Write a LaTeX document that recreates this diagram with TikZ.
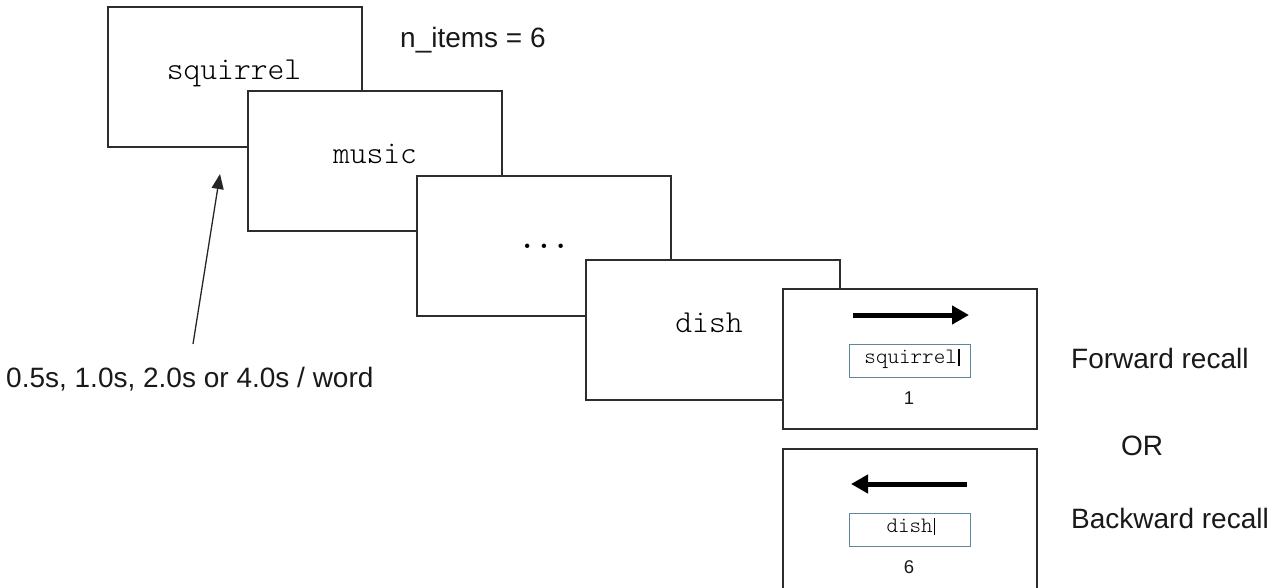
\documentclass[tikz,border=0pt]{standalone}
\usepackage{fontspec}
\setmainfont{Liberation Sans}
\newfontfamily\cour{lmmonolt10-regular.otf}
\newfontfamily\courbold{lmmonolt10-bold.otf}
\usetikzlibrary{arrows.meta}
\definecolor{frame}{RGB}{45,45,45}
\definecolor{inbox}{RGB}{95,135,155}
\tikzset{
  screen/.style={draw=frame, line width=1.3pt, fill=white, anchor=north west, inner sep=0pt, outer sep=0pt, minimum width=254pt, minimum height=140pt},
  entry/.style={draw=inbox, line width=1pt, fill=white, anchor=north west, inner sep=0pt, outer sep=0pt, minimum width=121pt, minimum height=33pt},
  bigword/.style={anchor=base, inner sep=0pt, font=\cour\fontsize{32}{36}\selectfont, text=black},
  smallword/.style={anchor=base, inner sep=0pt, font=\cour\fontsize{22}{26}\selectfont, text=black},
  label/.style={anchor=base west, inner sep=0pt, font=\fontsize{28}{32}\selectfont, text=black!90},
  num/.style={anchor=base, inner sep=0pt, font=\fontsize{18.5}{22}\selectfont, text=black!90},
  dirarrow/.style={line width=5pt, -{Triangle[length=17pt,width=18pt]}},
  pointer/.style={line width=1.3pt, draw=black!85, -{Triangle[length=15pt,width=12pt]}}
}
\begin{document}
\begin{tikzpicture}[x=1pt,y=-1pt]
\useasboundingbox (0,0) rectangle (1283,588);
% stacked screens
\node[screen] (b1) at (108,7) {};
\node[bigword] (w1) at (234,80) {squirrel};
\node[screen] (b2) at (248,91) {};
\node[bigword] (w2) at (375,164) {music};
\node[screen] (b3) at (417,176) {};
\node[bigword, font=\courbold\fontsize{32}{36}\selectfont] (w3) at (544,249) {...};
\node[screen] (b4) at (586,260) {};
\node[bigword] (w4) at (709,332) {dish};
% forward recall screen
\node[screen] (b5) at (783,289) {};
\coordinate (f1) at (853,315);
\coordinate (f2) at (969,315);
\draw[dirarrow] (f1) -- (f2);
\node[entry] (e5) at (849,344) {};
\node[smallword] (s5) at (912,363) {squirrel\hspace{1.5pt}\rule[-3pt]{1.2pt}{17pt}};
\node[num] (n5) at (909,404) {1};
% backward recall screen
\node[screen, minimum height=141pt] (b6) at (783,449) {};
\coordinate (g1) at (967,484);
\coordinate (g2) at (851,484);
\draw[dirarrow] (g1) -- (g2);
\node[entry] (e6) at (849,513) {};
\node[smallword] (s6) at (911,532) {dish\hspace{1.5pt}\rule[-3pt]{1.2pt}{17pt}};
\node[num] (n6) at (909,573) {6};
% labels
\node[label] (ni) at (400,48) {n\_items = 6};
\node[label] (rate) at (6,387) {0.5s, 1.0s, 2.0s or 4.0s / word};
\node[label] (fw) at (1071,368) {Forward recall};
\node[label] (or) at (1121,455) {OR};
\node[label] (bw) at (1071,528) {Backward recall};
% pointer arrow
\coordinate (p1) at (193,344);
\coordinate (p2) at (220,174);
\draw[pointer] (p1) -- (p2);
\end{tikzpicture}
\end{document}
